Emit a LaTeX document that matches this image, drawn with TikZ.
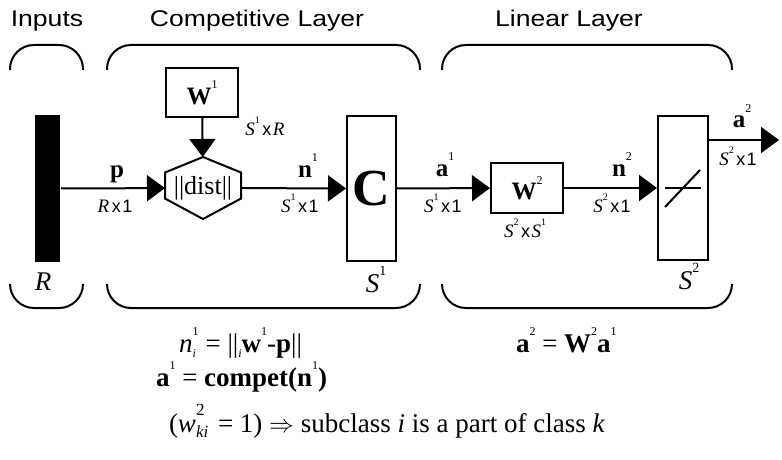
\documentclass[tikz,border=0pt]{standalone}
\usepackage{fontspec}
\setmainfont{Liberation Serif}
\newfontfamily\lsans[FakeStretch=1.17]{Liberation Sans}
\newfontfamily\lsansn{Liberation Sans}
\usetikzlibrary{arrows.meta,calc}
\newcommand\hi[2][10]{\raisebox{0.62em}{\fontsize{#1}{#1}\selectfont\normalfont #2}}
\newcommand\xs{\hspace{2.5pt}{\lsansn\fontsize{18}{18}\selectfont x\hspace{1.5pt}}}
\newcommand\xone{\xs{\lsansn\fontsize{18}{18}\selectfont 1}}
\newcommand\stk[3][12]{\makebox[0pt][l]{\raisebox{0.6em}{\fontsize{#1}{#1}\selectfont\normalfont #2}}\raisebox{-0.22em}{\fontsize{#1}{#1}\selectfont\normalfont\itshape #3}}
\begin{document}
\begin{tikzpicture}[x=1pt,y=-1pt,line width=2pt,
  sig/.style={-{Triangle[length=18pt,width=26pt]},line width=2pt},
  blk/.style={draw,line width=2pt,inner sep=0pt},
  brc/.style={line width=2pt,rounded corners=24pt},
  ttl/.style={font=\lsans\fontsize{22.7}{22.7}\selectfont,anchor=base,inner sep=0pt},
  dimlab/.style={font=\fontsize{19}{19}\selectfont,anchor=base,inner sep=0pt},
  sgl/.style={font=\bfseries\fontsize{25}{25}\selectfont,anchor=base,inner sep=0pt},
  sz/.style={font=\itshape\fontsize{27}{27}\selectfont,anchor=base,inner sep=0pt},
  eq/.style={font=\fontsize{27}{27}\selectfont,anchor=base west,inner sep=0pt}]
\useasboundingbox (0,0) rectangle (782,460);

% titles
\node[ttl] (tin) at (47,27) {Inputs};
\node[ttl] (tcomp) at (257,27) {Competitive Layer};
\node[ttl] (tlin) at (569,27) {Linear Layer};

% braces
\draw[brc] (10,70) -- (10,45) -- (83,45) -- (83,70);
\draw[brc] (10,285) -- (10,308) -- (83,308) -- (83,285);
\draw[brc] (107,70) -- (107,45) -- (420,45) -- (420,70);
\draw[brc] (107,285) -- (107,308) -- (420,308) -- (420,285);
\draw[brc] (442,70) -- (442,45) -- (732,45) -- (732,70);
\draw[brc] (442,285) -- (442,308) -- (732,308) -- (732,285);

% blocks
\node[fill=black,minimum width=25pt,minimum height=147pt,inner sep=0pt] (bar) at (47.5,188.5) {};
\node[blk,minimum width=72pt,minimum height=49pt] (W1) at (202,92.5)
  {\bfseries\fontsize{25}{25}\selectfont W\hi[12]{1}};
\node[minimum width=74pt,minimum height=60pt,inner sep=0pt] (dist) at (203,188)
  {\fontsize{26}{26}\selectfont ||dist||};
\draw[line width=2pt] (dist.north)
  -- ($(dist.north east)!0.25!(dist.south east)$)
  -- ($(dist.north east)!0.67!(dist.south east)$)
  -- (dist.south)
  -- ($(dist.north west)!0.67!(dist.south west)$)
  -- ($(dist.north west)!0.25!(dist.south west)$) -- cycle;
\node[blk,minimum width=49pt,minimum height=145pt] (C) at (371.5,188.5)
  {\bfseries\fontsize{52}{52}\selectfont C};
\node[blk,minimum width=72pt,minimum height=50pt] (W2) at (527,188)
  {\bfseries\fontsize{25}{25}\selectfont W\hi[12]{2}};
\node[blk,minimum width=50pt,minimum height=144pt] (lin) at (683,188) {};
\draw[line width=1.5pt] (665,188) -- (701,188);
\draw[line width=2pt] (665,207) -- (700,170);

% connectors
\draw[sig] (bar) -- (dist);
\draw[sig] (W1) -- (dist);
\draw[sig] (dist) -- (C);
\draw[sig] (C) -- (W2);
\draw[sig] (W2) -- (lin);
\coordinate (out) at (779,140);
\draw[sig] (lin.east |- out) -- (out);

% signal labels
\node[sgl] (lp) at (117,177) {p};
\node[dimlab] (lpd) at (115,212) {\textit{R}\xone};
\node[dimlab] (lw1d) at (265,135) {\textit{S}\hi[10]{1}\xs\textit{R}};
\node[sgl] (ln1) at (308,177) {n\hi[12]{1}};
\node[dimlab] (ln1d) at (300,212) {\textit{S}\hi[10]{1}\xone};
\node[sgl] (la1) at (445,176) {a\hi[12]{1}};
\node[dimlab] (la1d) at (443,212) {\textit{S}\hi[10]{1}\xone};
\node[dimlab] (lw2d) at (525,237) {\textit{S}\hi[10]{2}\xs\textit{S}\hi[10]{1}};
\node[sgl] (ln2) at (622,176) {n\hi[12]{2}};
\node[dimlab] (ln2d) at (612,212) {\textit{S}\hi[10]{2}\xone};
\node[sgl] (la2) at (742,128) {a\hi[12]{2}};
\node[dimlab] (la2d) at (738,165) {\textit{S}\hi[10]{2}\xone};

% size labels
\node[sz] (lR) at (43,290) {R};
\node[sz] (lS1) at (376,292) {S\hi[14]{1}};
\node[sz] (lS2) at (689,289) {S\hi[14]{2}};

% equations
\node[eq] (e1) at (178,352) {\textit{n}\stk{1}{i}\hspace{3pt} = ||\raisebox{-0.22em}{\fontsize{12}{12}\selectfont\itshape i}\textbf{w}\hi[12]{1}-\textbf{p}||};
\node[eq] (e2) at (155,386) {\textbf{a}\hi[12]{1} = \textbf{compet(n}\hi[12]{1}\textbf{)}};
\node[eq] (e3) at (515,352) {\textbf{a}\hi[12]{2} = \textbf{W}\hi[12]{2}\textbf{a}\hi[12]{1}};
\node[eq] (e4) at (168,432) {(\textit{w}\stk[17]{2}{ki}\hspace{3pt} = 1) $\Rightarrow$ subclass \textit{i} is a part of class \textit{k}};
\end{tikzpicture}
\end{document}
